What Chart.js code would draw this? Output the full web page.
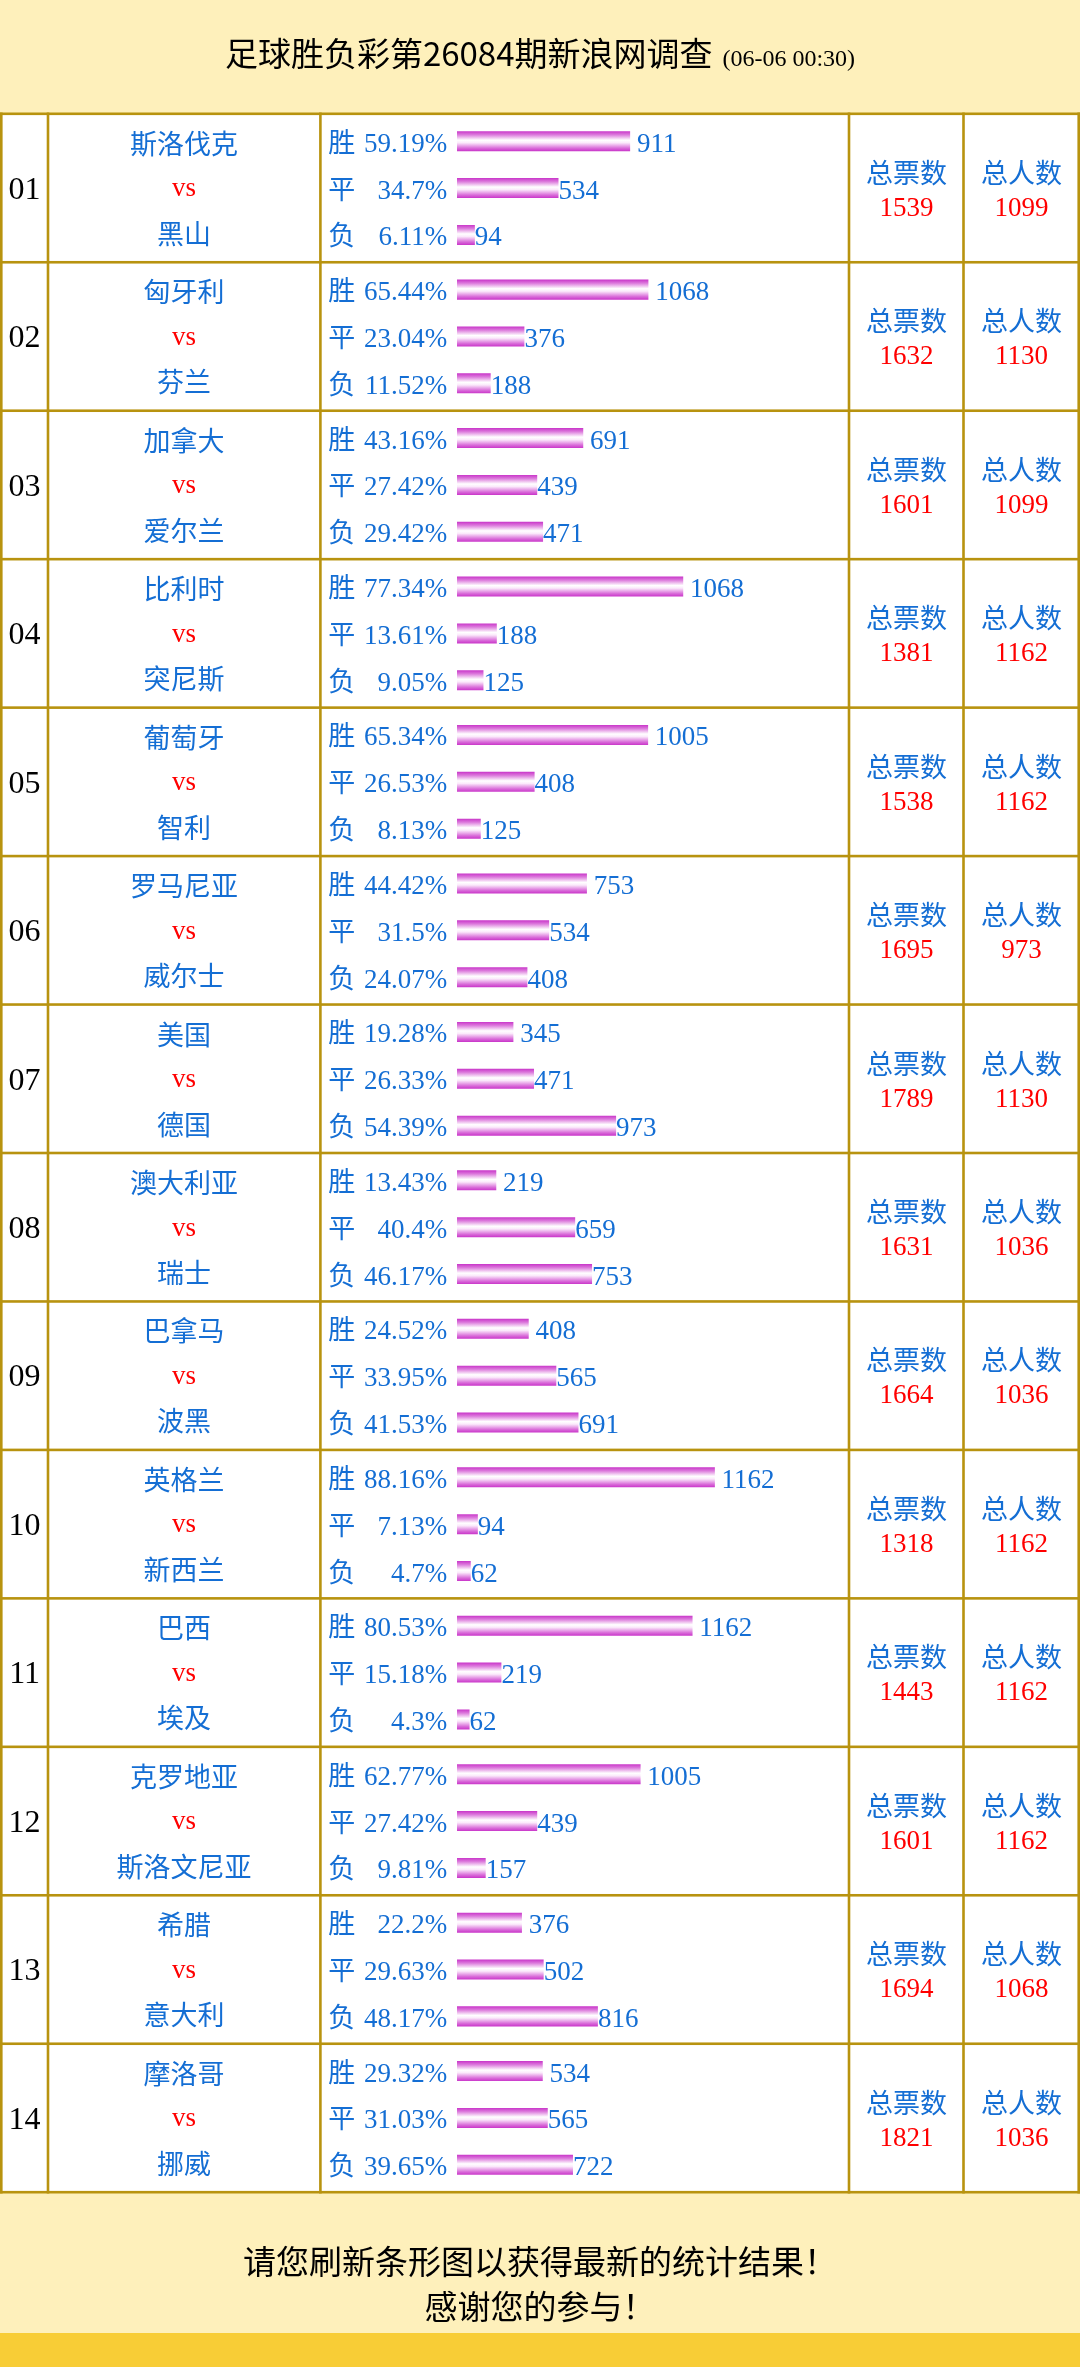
<!DOCTYPE html>
<html><head><meta charset="utf-8">
<script src="https://cdn.jsdelivr.net/npm/chart.js@4.4.1/dist/chart.umd.min.js"></script>
<style>html,body{margin:0;padding:0;background:#fff;}#wrap{position:relative;width:1080px;height:2367px;}canvas{display:block;}</style>
</head><body><div id="wrap"><canvas id="c" width="1080" height="2367"></canvas></div>
<script>
const titleText = '足球胜负彩第26084期新浪网调查';
const titleTime = '(06-06 00:30)';
const footerLines = ['请您刷新条形图以获得最新的统计结果！', '感谢您的参与！'];
const outcomeLabels = ['胜', '平', '负'];
const totalVotesLabel = '总票数';
const totalPeopleLabel = '总人数';
const vsText = 'vs';
const matchNos = ['01','02','03','04','05','06','07','08','09','10','11','12','13','14'];
const homeTeams = ['斯洛伐克','匈牙利','加拿大','比利时','葡萄牙','罗马尼亚','美国','澳大利亚','巴拿马','英格兰','巴西','克罗地亚','希腊','摩洛哥'];
const awayTeams = ['黑山','芬兰','爱尔兰','突尼斯','智利','威尔士','德国','瑞士','波黑','新西兰','埃及','斯洛文尼亚','意大利','挪威'];
const winVotes  = [911,1068,691,1068,1005,753,345,219,408,1162,1162,1005,376,534];
const drawVotes = [534,376,439,188,408,534,471,659,565,94,219,439,502,565];
const lossVotes = [94,188,471,125,125,408,973,753,691,62,62,157,816,722];
const winPct  = ['59.19','65.44','43.16','77.34','65.34','44.42','19.28','13.43','24.52','88.16','80.53','62.77','22.2','29.32'];
const drawPct = ['34.7','23.04','27.42','13.61','26.53','31.5','26.33','40.4','33.95','7.13','15.18','27.42','29.63','31.03'];
const lossPct = ['6.11','11.52','29.42','9.05','8.13','24.07','54.39','46.17','41.53','4.7','4.3','9.81','48.17','39.65'];
const totalVotes  = [1539,1632,1601,1381,1538,1695,1789,1631,1664,1318,1443,1601,1694,1821];
const totalPeople = [1099,1130,1099,1162,1162,973,1130,1036,1036,1162,1162,1162,1068,1036];

// ---- styling / layout constants ----
const W = 1080, H = 2367;
const CJK = '"Noto Sans CJK SC", "Noto Sans CJK JP", sans-serif';
const SERIF = '"Liberation Serif", "DejaVu Serif", serif';
const BLUE = '#146ed4', RED = '#ff0000', GOLD = '#b8930f';
const HEADER_BG = '#fef0bb', FOOT_DARK = '#f8cd36';
const CAT_PCT = 0.947, BAR_PCT = 0.427;
const COL_LINES = [1.3, 48, 320.4, 849, 963.5, 1078.7];
const FOOT_DARK_TOP = 2333;

const votesBy = [winVotes, drawVotes, lossVotes];
const pctBy = [winPct, drawPct, lossPct];

function barGradient(ctx) {
  const chart = ctx.chart;
  const ys = chart.scales && chart.scales.y;
  if (!ys || ctx.type !== 'data') return '#cc44cc';
  const pitch = (ys.bottom - ys.top) / matchNos.length;
  const chunk = pitch * CAT_PCT / 3;
  const cy = ys.getPixelForValue(ctx.dataIndex) + (ctx.datasetIndex - 1) * chunk;
  const half = chunk * BAR_PCT / 2;
  if (!isFinite(cy) || !isFinite(half)) return '#cc44cc';
  const g = chart.ctx.createLinearGradient(0, cy - half, 0, cy + half);
  g.addColorStop(0, '#c935c9');
  g.addColorStop(0.18, '#dc7adc');
  g.addColorStop(0.45, '#ffffff');
  g.addColorStop(0.58, '#fbeafb');
  g.addColorStop(0.85, '#d96cd9');
  g.addColorStop(1, '#c935c9');
  return g;
}

const pagePlugin = {
  id: 'page',
  beforeDraw(chart) {
    const c = chart.ctx, a = chart.chartArea;
    c.save();
    c.fillStyle = '#ffffff'; c.fillRect(0, 0, W, H);
    c.fillStyle = HEADER_BG; c.fillRect(0, 0, W, a.top);
    c.fillRect(0, a.bottom, W, FOOT_DARK_TOP - a.bottom);
    c.fillStyle = FOOT_DARK; c.fillRect(0, FOOT_DARK_TOP, W, H - FOOT_DARK_TOP);
    c.restore();
  },
  afterDraw(chart) {
    const c = chart.ctx, a = chart.chartArea, ys = chart.scales.y;
    const n = matchNos.length, pitch = (a.bottom - a.top) / n;
    c.save();
    // title
    c.textBaseline = 'alphabetic';
    c.fillStyle = '#000';
    c.font = '33px ' + CJK;
    const w1 = c.measureText(titleText).width;
    c.font = '24px ' + SERIF;
    const w2 = c.measureText(titleTime).width;
    const gap = 10;
    let tx = W / 2 - (w1 + gap + w2) / 2;
    c.textAlign = 'left';
    c.font = '33px ' + CJK; c.fillText(titleText, tx, 66);
    c.font = '24px ' + SERIF; c.fillText(titleTime, tx + w1 + gap, 66);
    // footer
    c.textAlign = 'center';
    c.font = '33px ' + CJK;
    c.fillText(footerLines[0], W / 2, 2274);
    c.fillText(footerLines[1], W / 2, 2319);
    // grid lines
    c.fillStyle = GOLD;
    for (let i = 0; i <= n; i++) {
      const y = a.top + i * pitch;
      c.fillRect(0, y - 1.3, W, 2.6);
    }
    COL_LINES.forEach(x => c.fillRect(x - 1.3, a.top - 1.3, 2.6, a.bottom - a.top + 2.6));
    // row texts
    for (let i = 0; i < n; i++) {
      const r = ys.getPixelForValue(i) - pitch / 2;
      c.textAlign = 'center';
      c.fillStyle = '#000';
      c.font = '32px ' + SERIF; c.fillText(matchNos[i], 24.6, r + 85);
      c.fillStyle = BLUE;
      c.font = '27px ' + CJK;
      c.fillText(homeTeams[i], 184, r + 40);
      c.fillText(awayTeams[i], 184, r + 130);
      c.fillText(totalVotesLabel, 906.5, r + 69);
      c.fillText(totalPeopleLabel, 1021.5, r + 69);
      c.fillStyle = RED;
      c.font = '27px ' + SERIF;
      c.fillText(vsText, 184, r + 82.5);
      c.fillText(String(totalVotes[i]), 906.5, r + 102);
      c.fillText(String(totalPeople[i]), 1021.5, r + 102);
    }
    // bar labels
    c.fillStyle = BLUE;
    for (let d = 0; d < 3; d++) {
      const meta = chart.getDatasetMeta(d);
      meta.data.forEach((el, i) => {
        const base = el.y + 10.5;
        c.textAlign = 'left';
        c.font = '27px ' + CJK;
        c.fillText(outcomeLabels[d], 328.3, base);
        c.font = '27px ' + SERIF;
        c.textAlign = 'right';
        c.fillText(pctBy[d][i] + '%', 447.3, base);
        c.textAlign = 'left';
        c.fillText((d === 0 ? ' ' : '') + votesBy[d][i], el.x, base);
      });
    }
    c.restore();
  }
};

new Chart(document.getElementById('c'), {
  type: 'bar',
  data: {
    labels: matchNos,
    datasets: outcomeLabels.map((lab, d) => ({
      label: lab,
      data: pctBy[d].map(parseFloat),
      backgroundColor: barGradient,
      borderWidth: 0,
      categoryPercentage: CAT_PCT,
      barPercentage: BAR_PCT
    }))
  },
  options: {
    indexAxis: 'y',
    responsive: false,
    maintainAspectRatio: false,
    animation: false,
    layout: { padding: { left: 457, right: 330.5, top: 113.8, bottom: 174.8 } },
    scales: {
      x: { display: false, min: 0, max: 100 },
      y: { display: false }
    },
    plugins: { legend: { display: false }, tooltip: { enabled: false }, title: { display: false } }
  },
  plugins: [pagePlugin]
});
</script>
</body></html>
